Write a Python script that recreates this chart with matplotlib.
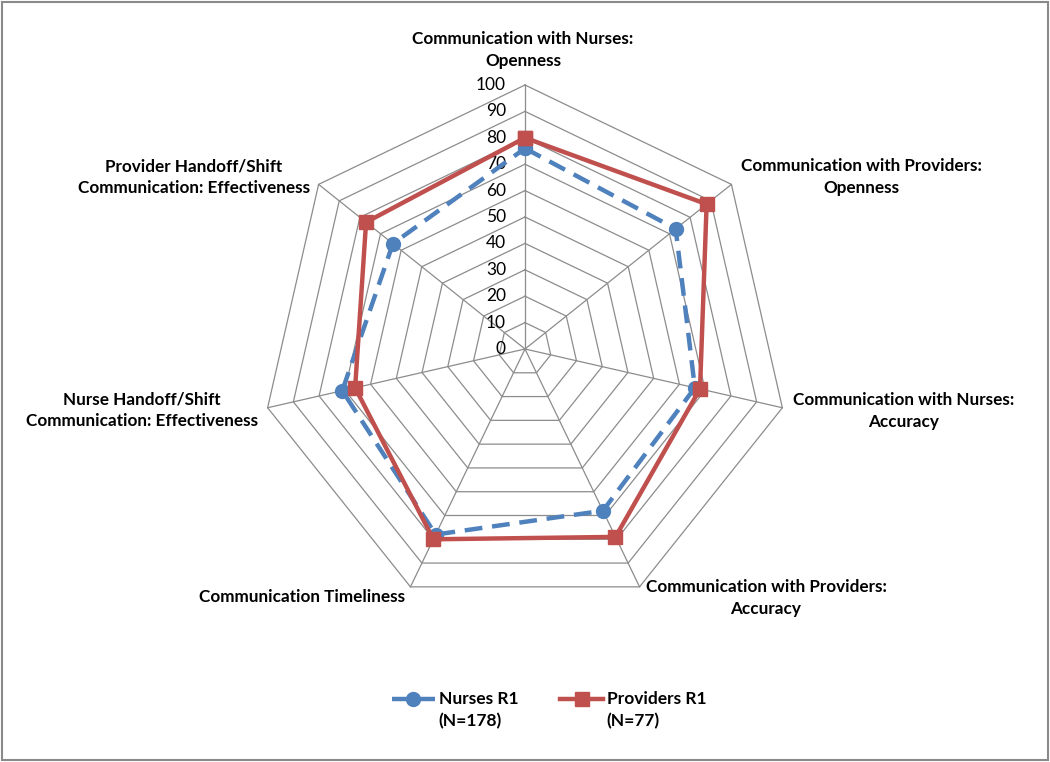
import numpy as np
import matplotlib
matplotlib.use("Agg")
import matplotlib.pyplot as plt
from matplotlib.patches import Rectangle
from matplotlib.legend_handler import HandlerLine2D

categories = [
    "Communication with Nurses:\nOpenness",
    "Communication with Providers:\nOpenness",
    "Communication with Nurses:\nAccuracy",
    "Communication with Providers:\nAccuracy",
    "Communication Timeliness",
    "Nurse Handoff/Shift\nCommunication: Effectiveness",
    "Provider Handoff/Shift\nCommunication: Effectiveness",
]
nurses = [76, 73, 66, 68, 78, 71, 64]
providers = [80, 88, 68, 79, 80, 66, 77]
series_labels = ["Nurses R1\n(N=178)", "Providers R1\n(N=77)"]
radial_ticks = [0, 10, 20, 30, 40, 50, 60, 70, 80, 90, 100]

# label centres in figure pixels (top-left origin)
label_pos = [(523, 50), (861, 177), (904, 411), (766, 598), (302, 597),
             (142, 410), (194, 177)]

W, H = 1050, 762
plt.rcParams['font.family'] = ['Lato', 'DejaVu Sans']
fig = plt.figure(figsize=(W / 100, H / 100), dpi=100)

cx, cy, R = 525, 349, 264
ax = fig.add_axes([(cx - R) / W, (H - cy - R) / H, 2 * R / W, 2 * R / H],
                  projection='polar')
ax.set_theta_zero_location('N')
ax.set_theta_direction(-1)
ax.set_ylim(0, 100)
ax.grid(False)
ax.spines['polar'].set_visible(False)
ax.set_xticks([])
ax.set_yticks([])
ax.patch.set_alpha(0)

n = len(categories)
theta = np.arange(n) * 2 * np.pi / n
theta_c = np.append(theta, theta[0])

gcol = '#8c8c8c'
for r in radial_ticks[1:]:
    ax.plot(theta_c, [r] * (n + 1), color=gcol, lw=0.9, clip_on=False, zorder=1)
for t in theta:
    ax.plot([t, t], [0, 100], color=gcol, lw=0.9, clip_on=False, zorder=1)

for r in radial_ticks:
    ax.annotate(str(r), xy=(0, r), xytext=(-19, 0), textcoords='offset pixels',
                ha='right', va='center', fontsize=12.5, color='black')

blue = '#4f81bd'
red = '#c0504d'
l1, = ax.plot(theta_c, nurses + [nurses[0]], color=blue, lw=3.2,
              linestyle=(0, (4, 2.2)), marker='o', markersize=10,
              clip_on=False, zorder=3, label=series_labels[0])
l2, = ax.plot(theta_c, providers + [providers[0]], color=red, lw=3.2,
              marker='s', markersize=10, clip_on=False, zorder=4,
              label=series_labels[1])

for lab, (px, py) in zip(categories, label_pos):
    fig.text(px / W, 1 - py / H, lab, ha='center', va='center',
             fontsize=12.3, fontweight='bold', linespacing=1.4)


class UpHandler(HandlerLine2D):
    def create_artists(self, legend, orig_handle, xdescent, ydescent, width,
                       height, fontsize, trans):
        return super().create_artists(legend, orig_handle, xdescent,
                                      ydescent - 16, width, height, fontsize,
                                      trans)


leg = fig.legend(handles=[l1, l2], loc='center', ncol=2,
                 bbox_to_anchor=(549 / W, 1 - 710 / H), frameon=False,
                 prop={'weight': 'bold', 'size': 12.5}, handlelength=2.5,
                 handletextpad=0.2, columnspacing=2.4, labelspacing=0.3,
                 handler_map={l1: UpHandler(), l2: UpHandler()})
for t in leg.get_texts():
    t.set_linespacing(1.4)
    t.set_fontweight('bold')

fig.patches.append(Rectangle((2 / W, 2 / H), (W - 4) / W, (H - 4) / H,
                             transform=fig.transFigure, fill=False,
                             edgecolor='#8a8a8a', lw=1.5))

fig.savefig('out.png', dpi=100)
